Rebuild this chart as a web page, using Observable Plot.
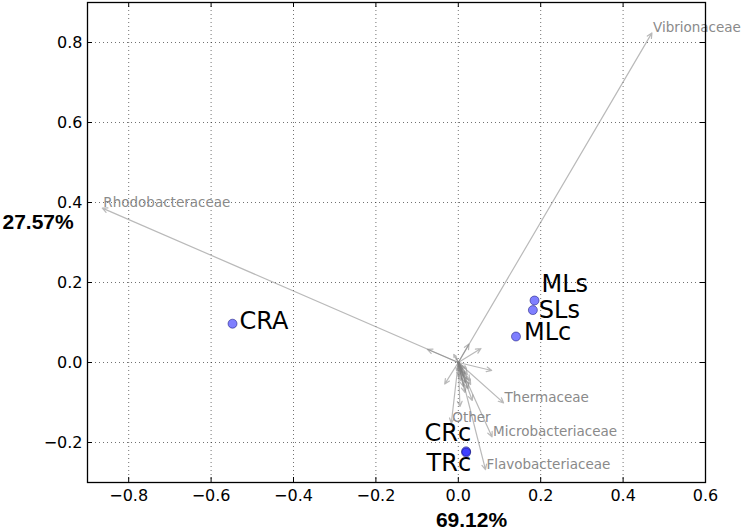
<!DOCTYPE html>
<html>
<head>
<meta charset="utf-8">
<script src="https://cdn.jsdelivr.net/npm/d3@7"></script>
<script src="https://cdn.jsdelivr.net/npm/@observablehq/plot@0.6"></script>
<style>
  html, body { margin: 0; padding: 0; background: #ffffff; }
  #chart svg { display: block; }
</style>
</head>
<body>
<div id="chart"></div>
<script>
// ---- Samples (site scores) ----
const sampleNames = ["CRA", "MLs", "SLs", "MLc", "CRc", "TRc"];
const sampleX = [-0.548, 0.185, 0.181, 0.140, 0.019, 0.019];
const sampleY = [0.097, 0.155, 0.131, 0.065, -0.222, -0.225];

// ---- Taxa (biplot arrows); empty label = unlabeled arrow ----
const taxonLabels = [
  "Vibrionaceae", "Rhodobacteraceae", "Thermaceae", "Other", "Microbacteriaceae", "Flavobacteriaceae",
  "", "", "", "", "", "", "", "", "",
  "", "", "", "", "", "", "", "", "", "", "", "", "", ""
];
const taxonX = [
  0.470, -0.864, 0.110, -0.017, 0.082, 0.066,
  -0.075, 0.026, 0.055, 0.081, -0.033, 0.004, 0.034, -0.011, -0.005,
  0.008, 0.015, 0.022, 0.006, 0.018, 0.028, 0.012, 0.024, 0.002, 0.010, -0.004, 0.030, 0.016, 0.020
];
const taxonY = [
  0.824, 0.386, -0.101, -0.152, -0.186, -0.268,
  0.033, 0.046, 0.035, -0.020, -0.054, -0.110, -0.095, 0.020, 0.012,
  -0.025, -0.035, -0.030, -0.045, -0.050, -0.045, -0.060, -0.065, -0.035, -0.015, -0.020, -0.055, -0.075, -0.015
];

// ---- Axes ----
const xTicks = [-0.8, -0.6, -0.4, -0.2, 0.0, 0.2, 0.4, 0.6];
const yTicks = [-0.2, 0.0, 0.2, 0.4, 0.6, 0.8];
const xDomain = [-0.9, 0.6];
const yDomain = [-0.3, 0.9];
const xAxisTitle = "69.12%";
const yAxisTitle = "27.57%";

// ---- Build tables ----
const samples = sampleNames.map((name, i) => ({name, x: sampleX[i], y: sampleY[i]}));
const taxa = taxonLabels.map((label, i) => ({label, x: taxonX[i], y: taxonY[i]}));

// label placement (style)
const labelPlacement = {
  CRA: {anchor: "start", dx: 7, dy: -2},
  MLs: {anchor: "start", dx: 7, dy: -16},
  SLs: {anchor: "start", dx: 6, dy: 0},
  MLc: {anchor: "start", dx: 8, dy: -4},
  CRc: {anchor: "end", dx: 5, dy: -18},
  TRc: {anchor: "end", dx: 5, dy: 11}
};

const W = 742, H = 532;
const mL = 87, mR = 37, mT = 2, mB = 50;
const frameW = W - mL - mR, frameH = H - mT - mB;
const tickLen = 5;
const fmt = d3.format(".1f");

const gridStyle = {stroke: "#000", strokeOpacity: 0.7, strokeWidth: 0.8, strokeDasharray: "1,3"};

const sampleLabelMarks = samples.map(s => {
  const p = labelPlacement[s.name];
  return Plot.text([s], {
    x: "x", y: "y", text: "name",
    textAnchor: p.anchor, dx: p.dx, dy: p.dy,
    fontSize: 24, fontFamily: "DejaVu Sans", fill: "#000"
  });
});

const chart = Plot.plot({
  width: W,
  height: H,
  marginLeft: mL,
  marginRight: mR,
  marginTop: mT,
  marginBottom: mB,
  style: {fontFamily: "DejaVu Sans", fontSize: "16px", background: "#ffffff", color: "#000", overflow: "visible"},
  x: {domain: xDomain, ticks: xTicks, tickFormat: fmt, tickSize: 0, tickPadding: 7, label: null},
  y: {domain: yDomain, ticks: yTicks, tickFormat: fmt, tickSize: 0, tickPadding: 5, label: null},
  marks: [
    Plot.ruleX(xTicks, {x: d => d, ...gridStyle}),
    Plot.ruleY(yTicks, {y: d => d, ...gridStyle}),
    Plot.arrow(taxa, {
      x1: d => 0, y1: d => 0, x2: "x", y2: "y",
      stroke: "#7f7f7f", strokeOpacity: 0.55, strokeWidth: 1.2,
      headLength: 7, headAngle: 50
    }),
    Plot.text(taxa.filter(d => d.label !== ""), {
      x: "x", y: "y", text: "label",
      textAnchor: "start", lineAnchor: "bottom", dx: 1, dy: -1,
      fill: "#8a8a8a", fontSize: 13.5, fontFamily: "DejaVu Sans"
    }),
    Plot.dot(samples, {
      x: "x", y: "y", r: 4.5,
      fill: "#0000ff", fillOpacity: 0.5,
      stroke: "#000066", strokeOpacity: 0.6, strokeWidth: 0.8
    }),
    ...sampleLabelMarks,
    Plot.frame({stroke: "#000", strokeWidth: 1.3}),
    Plot.tickX(xTicks, {x: d => d, insetTop: frameH - tickLen, stroke: "#000", strokeWidth: 1}),
    Plot.tickX(xTicks, {x: d => d, insetBottom: frameH - tickLen, stroke: "#000", strokeWidth: 1}),
    Plot.tickY(yTicks, {y: d => d, insetRight: frameW - tickLen, stroke: "#000", strokeWidth: 1}),
    Plot.tickY(yTicks, {y: d => d, insetLeft: frameW - tickLen, stroke: "#000", strokeWidth: 1}),
    Plot.text([xAxisTitle], {
      frameAnchor: "bottom", text: d => d, dx: 75, dy: 44, lineAnchor: "bottom",
      fontSize: 21, fontWeight: "bold", fontFamily: "Liberation Sans", fill: "#000"
    }),
    Plot.text([yAxisTitle], {
      frameAnchor: "left", text: d => d, dx: -85, dy: -20, textAnchor: "start", lineAnchor: "middle",
      fontSize: 21, fontWeight: "bold", fontFamily: "Liberation Sans", fill: "#000"
    })
  ]
});

document.getElementById("chart").appendChild(chart);
</script>
</body>
</html>
